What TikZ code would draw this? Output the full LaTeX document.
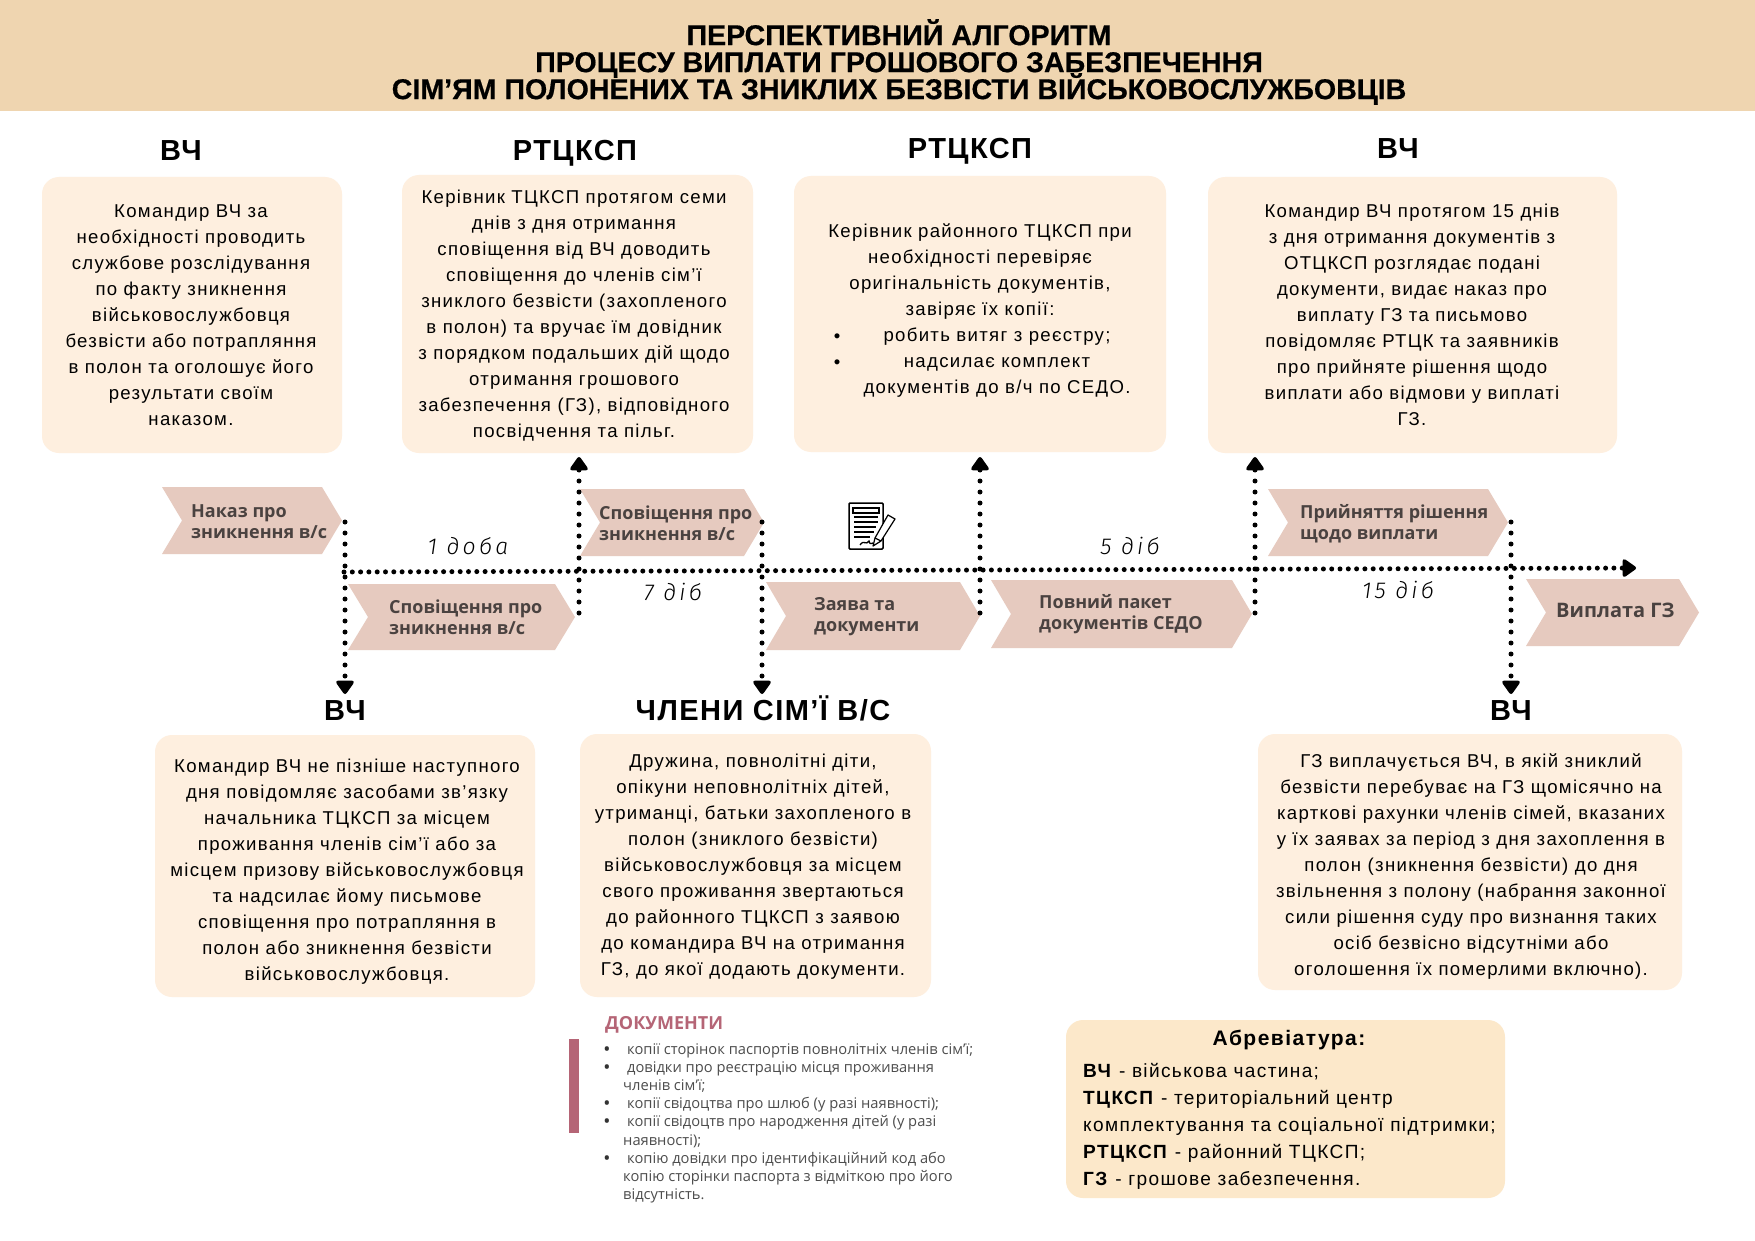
\documentclass[tikz,border=0pt]{standalone}
\usepackage{fontspec}
\setmainfont{Liberation Sans}
\newfontfamily\bodyfont[LetterSpace=7]{Liberation Sans}
\newfontfamily\headfont[LetterSpace=5]{Liberation Sans}
\newfontfamily\titlefont[FakeBold=0.5]{Liberation Sans Bold}
\newfontfamily\chevfont{Open Sans}
\newfontfamily\handfont[LetterSpace=14]{Fira Sans Light Italic}
\usetikzlibrary{arrows.meta,positioning}
\definecolor{headbg}{HTML}{EFD5B0}
\definecolor{boxbg}{HTML}{FEEFDF}
\definecolor{abbrbg}{HTML}{FCE8CA}
\definecolor{chevbg}{HTML}{E6CABF}
\definecolor{chevtx}{HTML}{4A4240}
\definecolor{docrose}{HTML}{B56576}
\definecolor{doctx}{HTML}{4D4D4D}
\newcommand{\docbul}{\makebox[23pt][l]{\textcolor{black!80}{\bfseries\fontsize{15}{18.2}\selectfont •}}}

\begin{document}
\begin{tikzpicture}[x=1pt,y=-1pt,
 box/.style={fill=boxbg,rounded corners=17pt},
 chev/.style={fill=chevbg},
 chevlab/.style={anchor=west,inner sep=0pt,align=left,text=chevtx,font=\chevfont\bfseries\fontsize{18}{21}\selectfont},
 head/.style={anchor=base,inner sep=0pt,font=\headfont\bfseries\fontsize{29}{30}\selectfont},
 body/.style={inner sep=0pt,align=center,font=\bodyfont\fontsize{18.6}{26}\selectfont},
 hand/.style={inner sep=0pt,font=\handfont\fontsize{23}{26}\selectfont},
 dotsh/.style={line width=5pt,line cap=round,dash pattern=on 0pt off 8.3pt},
 dotsv/.style={line width=5pt,line cap=round,dash pattern=on 0pt off 11pt,-{Triangle[length=15pt,width=20pt,round]}}]
\useasboundingbox (0,0) rectangle (1755,1241);
\fill[white] (0,0) rectangle (1755,1241);
\fill[headbg] (0,0) rectangle (1755,111);
\node[inner sep=0pt,align=center,font=\titlefont\fontsize{28.6}{27}\selectfont\setlength{\lineskiplimit}{-20pt}] (title) at (899,62)
 {ПЕРСПЕКТИВНИЙ АЛГОРИТМ\\ПРОЦЕСУ ВИПЛАТИ ГРОШОВОГО ЗАБЕЗПЕЧЕННЯ\\СІМ’ЯМ ПОЛОНЕНИХ ТА ЗНИКЛИХ БЕЗВІСТИ ВІЙСЬКОВОСЛУЖБОВЦІВ};
\foreach \xa/\ya/\xb/\yb in {42/177/342/453,402/175/753/453,794/176/1166/452,1208/177/1617/453,
 155/735/535/997,580/734/931/997,1258/734/1682/990}
 \fill[box] (\xa,\ya) rectangle (\xb,\yb);
\fill[abbrbg,rounded corners=17pt] (1066,1020) rectangle (1505,1198);
\node[head] (hvch1) at (181,161) {ВЧ};
\node[head] (hrt1) at (575,161) {РТЦКСП};
\node[head] (hrt2) at (970,159) {РТЦКСП};
\node[head] (hvch2) at (1398,159) {ВЧ};
\node[head] (hvch3) at (345,720) {ВЧ};
\node[head] (hfam) at (763,720) {ЧЛЕНИ СІМ’Ї В/С};
\node[head] (hvch4) at (1511,720) {ВЧ};
\node[body] (t1) at (191,315) {Командир ВЧ за\\необхідності проводить\\службове розслідування\\по факту зникнення\\військовослужбовця\\безвісти або потрапляння\\в полон та оголошує його\\результати своїм\\наказом.};
\node[body] (t2) at (574,316) {Керівник ТЦКСП протягом семи\\днів з дня отримання\\сповіщення від ВЧ доводить\\сповіщення до членів сім’ї\\зниклого безвісти (захопленого\\в полон) та вручає їм довідник\\з порядком подальших дій щодо\\отримання грошового\\забезпечення (ГЗ), відповідного\\посвідчення та пільг.};
\node[body] (t3a) at (980,272) {Керівник районного ТЦКСП при\\необхідності перевіряє\\оригінальність документів,\\завіряє їх копії:};
\node[body] (t3b) at (997,363) {робить витяг з реєстру;\\надсилає комплект\\документів до в/ч по СЕДО.};
\node[body] (bul1) at (837,338) {•};
\node[body] (bul2) at (837,364) {•};
\node[body] (t4) at (1412,315) {Командир ВЧ протягом 15 днів\\з дня отримання документів з\\ОТЦКСП розглядає подані\\документи, видає наказ про\\виплату ГЗ та письмово\\повідомляє РТЦК та заявників\\про прийняте рішення щодо\\виплати або відмови у виплаті\\ГЗ.};
\node[body] (t5) at (347,872) {Командир ВЧ не пізніше наступного\\дня повідомляє засобами зв’язку\\начальника ТЦКСП за місцем\\проживання членів сім’ї або за\\місцем призову військовослужбовця\\та надсилає йому письмове\\сповіщення про потрапляння в\\полон або зникнення безвісти\\військовослужбовця.};
\node[body] (t6) at (753,867) {Дружина, повнолітні діти,\\опікуни неповнолітніх дітей,\\утриманці, батьки захопленого в\\полон (зниклого безвісти)\\військовослужбовця за місцем\\свого проживання звертаються\\до районного ТЦКСП з заявою\\до командира ВЧ на отримання\\ГЗ, до якої додають документи.};
\node[body] (t7) at (1471,867) {ГЗ виплачується ВЧ, в якій зниклий\\безвісти перебуває на ГЗ щомісячно на\\карткові рахунки членів сімей, вказаних\\у їх заявах за період з дня захоплення в\\полон (зникнення безвісти) до дня\\звільнення з полону (набрання законної\\сили рішення суду про визнання таких\\осіб безвісно відсутніми або\\оголошення їх померлими включно).};
\foreach \xa/\ya/\xb/\yb in {162/487/342/554,348/584/575/650,580/489/764/556,766/582/980/650,
 991/580/1252/648,1268/489/1508/556,1526/579/1699/646}
 \fill[chev] (\xa,\ya) -- (\xb-20,\ya) -- (\xb,{(\ya+\yb)/2}) -- (\xb-20,\yb) -- (\xa,\yb) -- (\xa+20,{(\ya+\yb)/2}) -- cycle;
\node[chevlab] (c1) at (191,522) {Наказ про\\зникнення в/с};
\node[chevlab] (c2) at (389,617) {Сповіщення про\\зникнення в/с};
\node[chevlab] (c3) at (599,523) {Сповіщення про\\зникнення в/с};
\node[chevlab] (c4) at (814,617) {Заява та\\документи};
\node[chevlab] (c5) at (1039,614) {Повний пакет\\документів СЕДО};
\node[chevlab] (c6) at (1300,524) {Прийняття рішення\\щодо виплати};
\node[chevlab,font=\chevfont\bfseries\fontsize{20}{22}\selectfont] (c7) at (1556,610) {Виплата ГЗ};
\coordinate (lineL) at (344,572);
\coordinate (lineR) at (1636,568);
\coordinate (a1) at (345,522);
\coordinate (a1e) at (345,694);
\coordinate (a2) at (579,613);
\coordinate (a2e) at (579,457);
\coordinate (a3) at (762,522);
\coordinate (a3e) at (762,694);
\coordinate (a4) at (980,613);
\coordinate (a4e) at (980,457);
\coordinate (a5) at (1255,613);
\coordinate (a5e) at (1255,457);
\coordinate (a6) at (1511,522);
\coordinate (a6e) at (1511,694);
\draw[dotsh,-{Triangle[length=15pt,width=20pt,round]}] (lineL)--(lineR);
\foreach \p in {1,...,6} \draw[dotsv] (a\p)--(a\p e);
\node[hand] (d1) at (468,546) {1 доба};
\node[hand] (d2) at (673,592) {7 діб};
\node[hand] (d3) at (1130,546) {5 діб};
\node[hand] (d4) at (1398,590) {15 діб};
\draw[line width=1.5pt,rounded corners=1pt] (849,503) rectangle (883,549);
\draw[line width=1.3pt] (853,508) rectangle (879,513);
\foreach \yy/\xe in {517/878,522/878,527/876,532/874,537/870} \draw[line width=1.3pt] (854,\yy)--(\xe,\yy);
\draw[line width=1.3pt] (860,545) .. controls (864,539) and (866,546) .. (869,541) .. controls (870,544) .. (873,543);
\draw[line width=1.2pt,fill=white,line join=round] (873,546) -- (875,538) -- (888,515) -- (895,519) -- (881,541) -- cycle;
\draw[line width=1.2pt] (875,538) -- (881,541);
\node[inner sep=0pt,anchor=west,text=docrose,font=\chevfont\bfseries\fontsize{18}{20}\selectfont] (dochead) at (605,1025) {ДОКУМЕНТИ};
\fill[docrose] (569,1039) rectangle (579,1133);
\node[inner sep=0pt,anchor=north west,align=left,text=doctx,font=\chevfont\fontsize{14.7}{18.2}\selectfont] (doclist) at (604,1043)
 {\docbul копії сторінок паспортів повнолітніх членів сім’ї;\\
 \docbul довідки про реєстрацію місця проживання\\
 \hspace*{19pt}членів сім’ї;\\
 \docbul копії свідоцтва про шлюб (у разі наявності);\\
 \docbul копії свідоцтв про народження дітей (у разі\\
 \hspace*{19pt}наявності);\\
 \docbul копію довідки про ідентифікаційний код або\\
 \hspace*{19pt}копію сторінки паспорта з відміткою про його\\
 \hspace*{19pt}відсутність.};
\node[body,font=\bodyfont\bfseries\fontsize{21}{27}\selectfont] (abbrt) at (1289,1040) {Абревіатура:};
\node[body,anchor=north west,align=left,font=\bodyfont\fontsize{19.1}{27}\selectfont] (abbr) at (1083,1063)
 {\textbf{ВЧ} - військова частина;\\\textbf{ТЦКСП} - територіальний центр\\комплектування та соціальної підтримки;\\\textbf{РТЦКСП} - районний ТЦКСП;\\\textbf{ГЗ} - грошове забезпечення.};
\end{tikzpicture}
\end{document}
